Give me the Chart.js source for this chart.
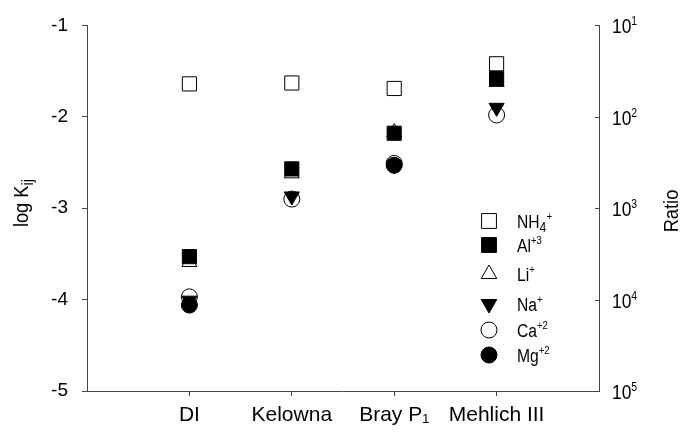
<!DOCTYPE html>
<html>
<head>
<meta charset="utf-8">
<script src="https://cdn.jsdelivr.net/npm/chart.js@4.4.1/dist/chart.umd.min.js"></script>
<style>
  html, body { margin: 0; padding: 0; background: #fff; }
</style>
</head>
<body>
<canvas id="chart" width="683" height="434"></canvas>
<script>
// categories along the x axis (placed at x = 1..4)
const categories = ['DI', 'Kelowna', 'Bray P\u2081', 'Mehlich III'];
const logTicks = [-5, -4, -3, -2, -1];
const ratioExponents = [1, 2, 3, 4, 5];

// log Kij per extractant
const nh4 = [-1.64, -1.63, -1.69, -1.42];
const al  = [-3.53, -2.57, -2.18, -1.58];
const li  = [-3.59, -2.62, -2.17, -1.62];
const na  = [-4.01, -2.87, -2.53, -1.90];
const ca  = [-3.97, -2.90, -2.51, -1.98];
const mg  = [-4.06, null, -2.53, null];

const FONT = "'Liberation Sans', Arial, sans-serif";
const NARROW = 0.87; // the original uses a condensed face

function toPoints(values) {
    return values.map((v, i) => ({ x: i + 1, y: v }));
}

function series(label, values, style, filled, rotation, radius, order) {
    return {
        label: label,
        data: toPoints(values),
        pointStyle: style,
        rotation: rotation,
        pointRadius: radius,
        pointHoverRadius: radius,
        pointBackgroundColor: filled ? '#000' : '#fff',
        pointBorderColor: '#000',
        pointBorderWidth: 1,
        showLine: false,
        order: order
    };
}

// legend entries: name parts [text, 0 normal / 1 sup / -1 sub]
const legendItems = [
    { parts: [['NH', 0], ['4', -1], ['+', 1]], style: 'rect', filled: false, rotation: 0, r: 10.5 },
    { parts: [['Al', 0], ['+3', 1]], style: 'rect', filled: true, rotation: 0, r: 10.5 },
    { parts: [['Li', 0], ['+', 1]], style: 'triangle', filled: false, rotation: 0, r: 9 },
    { parts: [['Na', 0], ['+', 1]], style: 'triangle', filled: true, rotation: 180, r: 9 },
    { parts: [['Ca', 0], ['+2', 1]], style: 'circle', filled: false, rotation: 0, r: 8 },
    { parts: [['Mg', 0], ['+2', 1]], style: 'circle', filled: true, rotation: 0, r: 8 }
];
const legendRowsY = [221, 245, 274, 304, 330, 355];

function partSize(k, size) {
    if (k === 1) return Math.round(size * 0.62);
    if (k === -1) return Math.round(size * 0.8);
    return size;
}

function richWidth(ctx, parts, size) {
    let w = 0;
    parts.forEach(([t, k]) => {
        ctx.font = partSize(k, size) + 'px ' + FONT;
        w += ctx.measureText(t).width;
    });
    return w * NARROW;
}

function drawRich(ctx, parts, x, y, size) {
    ctx.save();
    ctx.translate(x, y);
    ctx.scale(NARROW, 1);
    ctx.textAlign = 'left';
    ctx.textBaseline = 'alphabetic';
    let cx = 0;
    parts.forEach(([t, k]) => {
        ctx.font = partSize(k, size) + 'px ' + FONT;
        let dy = 0;
        if (k === 1) dy = -size * 0.4;
        if (k === -1) dy = size * 0.25;
        ctx.fillText(t, cx, dy);
        cx += ctx.measureText(t).width;
    });
    ctx.restore();
}

const decorations = {
    id: 'decorations',
    afterDraw(chart) {
        const ctx = chart.ctx;
        const yR = chart.scales.yRatio;
        ctx.save();
        ctx.fillStyle = '#000';

        // inward ticks and labels on the right ratio axis
        ctx.strokeStyle = '#444';
        ctx.lineWidth = 1;
        ratioExponents.forEach(e => {
            const py = Math.round(yR.getPixelForValue(-e)) + 0.5;
            ctx.beginPath();
            ctx.moveTo(yR.left - 4, py);
            ctx.lineTo(yR.left, py);
            ctx.stroke();
            drawRich(ctx, [['10', 0], [String(e), 1]], yR.left + 13, py + 7, 20);
        });

        // axis titles
        ctx.save();
        ctx.translate(28, 203);
        ctx.rotate(-Math.PI / 2);
        const t1 = [['log K', 0], ['ij', -1]];
        drawRich(ctx, t1, -richWidth(ctx, t1, 21) / 2, 0, 21);
        ctx.restore();

        ctx.save();
        ctx.translate(678, 211);
        ctx.rotate(-Math.PI / 2);
        const t2 = [['Ratio', 0]];
        drawRich(ctx, t2, -richWidth(ctx, t2, 21) / 2, 0, 21);
        ctx.restore();

        // legend
        legendItems.forEach((it, i) => {
            const y = legendRowsY[i];
            ctx.fillStyle = it.filled ? '#000' : '#fff';
            ctx.strokeStyle = '#000';
            ctx.lineWidth = 1;
            Chart.helpers.drawPoint(ctx, {
                pointStyle: it.style, rotation: it.rotation, radius: it.r, borderWidth: 1
            }, 489, y);
            ctx.fillStyle = '#000';
            drawRich(ctx, it.parts, 517, y + 6.5, 18);
        });
        ctx.restore();
    }
};

const ctx = document.getElementById('chart');

new Chart(ctx, {
    type: 'scatter',
    data: {
        datasets: [
            series('NH4+', nh4, 'rect', false, 0, 10, 6),
            series('Al+3', al, 'rect', true, 0, 10, 4),
            series('Li+', li, 'triangle', false, 0, 8.7, 5),
            series('Na+', na, 'triangle', true, 180, 8.7, 1),
            series('Ca+2', ca, 'circle', false, 0, 8, 3),
            series('Mg+2', mg, 'circle', true, 0, 8, 2)
        ]
    },
    options: {
        responsive: false,
        animation: false,
        layout: { padding: { top: 21, left: 0, right: 0, bottom: 0 } },
        plugins: {
            legend: { display: false },
            tooltip: { enabled: false }
        },
        scales: {
            x: {
                type: 'linear',
                min: 0,
                max: 5,
                afterBuildTicks: (scale) => {
                    scale.ticks = categories.map((c, i) => ({ value: i + 1 }));
                },
                afterFit: (scale) => { scale.height = 43; },
                ticks: {
                    callback: (v) => categories[v - 1] || '',
                    color: '#000',
                    font: { family: FONT, size: 21 },
                    padding: 7,
                    maxRotation: 0,
                    autoSkip: false
                },
                grid: { drawOnChartArea: false, tickLength: 5, color: '#444' },
                border: { color: '#444', width: 1 }
            },
            y: {
                position: 'left',
                min: -5,
                max: -1,
                afterBuildTicks: (scale) => {
                    scale.ticks = logTicks.map(v => ({ value: v }));
                },
                afterFit: (scale) => { scale.width = 87; },
                ticks: {
                    color: '#000',
                    font: { family: FONT, size: 19 },
                    padding: 14
                },
                grid: { drawOnChartArea: false, tickLength: 5, color: '#444' },
                border: { color: '#444', width: 1 }
            },
            yRatio: {
                position: 'right',
                min: -5,
                max: -1,
                afterFit: (scale) => { scale.width = 84; },
                ticks: { display: false },
                grid: { display: false },
                border: { color: '#444', width: 1 }
            }
        }
    },
    plugins: [decorations]
});
</script>
</body>
</html>
